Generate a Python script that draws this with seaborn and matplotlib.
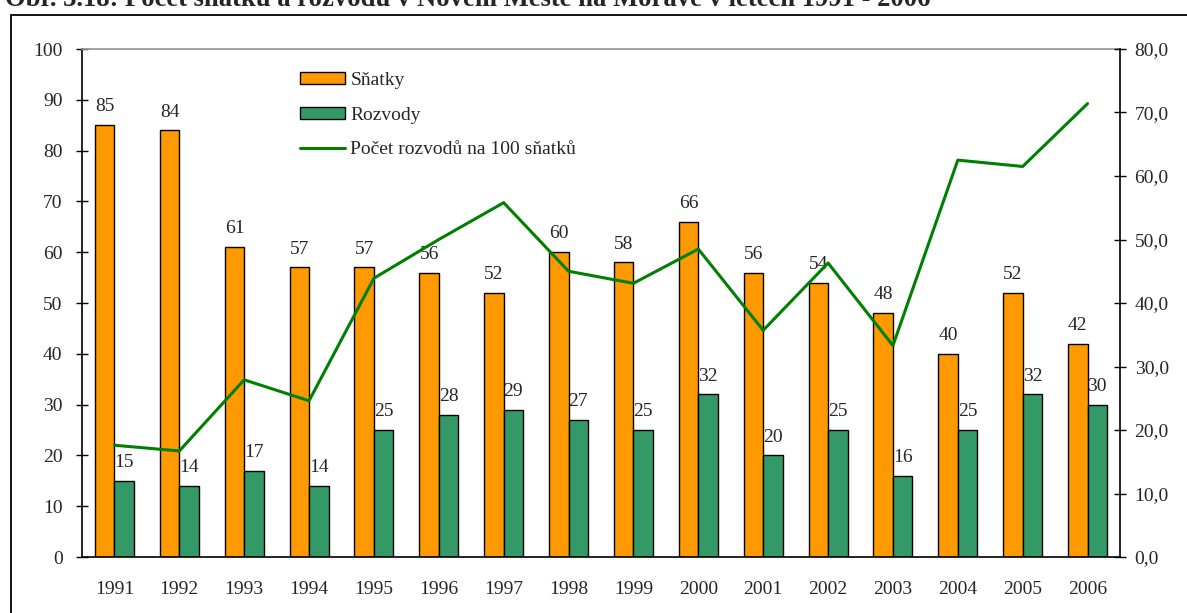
import pandas as pd
import seaborn as sns
import matplotlib.pyplot as plt
import matplotlib.patches as mpatches
from matplotlib.lines import Line2D

years = [str(y) for y in range(1991, 2007)]
snatky = [85, 84, 61, 57, 57, 56, 52, 60, 58, 66, 56, 54, 48, 40, 52, 42]
rozvody = [15, 14, 17, 14, 25, 28, 29, 27, 25, 32, 20, 25, 16, 25, 32, 30]
na_100 = [17.6, 16.7, 27.9, 24.6, 43.9, 50.0, 55.8, 45.0, 43.1, 48.5, 35.7, 46.3, 33.3, 62.5, 61.5, 71.4]

ORANGE = '#FF9900'
GREEN = '#339966'
LINE = '#008000'

sns.set_theme(style="white")
plt.rcParams['font.family'] = ['Liberation Serif', 'DejaVu Serif']
FS = 14

df = pd.DataFrame({'rok': years * 2,
                   'pocet': snatky + rozvody,
                   'typ': ['Sňatky'] * len(years) + ['Rozvody'] * len(years)})

fig = plt.figure(figsize=(11.87, 6.13), dpi=100)
ax = fig.add_axes([82 / 1187, 1 - 557 / 613, (1120 - 82) / 1187, (557 - 49) / 613])

# outer frame of the figure (cut by the image edge)
fig.patches.append(mpatches.Rectangle((10.5 / 1187, -0.1), 1.2, 1 - 15.5 / 613 + 0.1,
                                      transform=fig.transFigure, fill=False,
                                      edgecolor='black', linewidth=1.3))
fig.text(5 / 1187, 1 - 5.5 / 613, 'Obr. 3.18: Počet sňatků a rozvodů v Novém Městě na Moravě v letech 1991 - 2006',
         fontsize=19.2, fontweight='bold', va='baseline', ha='left')

sns.barplot(data=df, x='rok', y='pocet', hue='typ', palette=[ORANGE, GREEN], saturation=1,
            width=0.6, edgecolor='black', linewidth=1.0, legend=False, ax=ax)

for cont in ax.containers:
    ax.bar_label(cont, fontsize=FS, padding=7)

ax.set_ylim(0, 100)
ax.set_xlim(-0.5, len(years) - 0.5)
ax.set_yticks(range(0, 101, 10))
ax.set_xlabel('')
ax.set_ylabel('')
ax.set_xticks(range(len(years)))
ax.set_xticklabels(years)
ax.set_xticks([i - 0.5 for i in range(len(years) + 1)], minor=True)
ax.tick_params(axis='x', which='major', length=0, pad=17, labelsize=FS)
ax.tick_params(axis='x', which='minor', length=8, direction='inout', width=1, color='black')
ax.tick_params(axis='y', length=9, direction='inout', width=1, color='black', labelsize=FS, pad=9.5, left=True)
for s in ['left', 'bottom']:
    ax.spines[s].set_color('black')
    ax.spines[s].set_linewidth(1.2)
ax.spines['right'].set_visible(False)
ax.spines['top'].set_color('#999999')

ax2 = ax.twinx()
sns.lineplot(x=list(range(len(years))), y=na_100, color=LINE, linewidth=2.2, ax=ax2)
ax2.set_ylim(0, 80)
ax2.set_yticks(range(0, 81, 10))
ax2.set_yticklabels(['{:.1f}'.format(v).replace('.', ',') for v in range(0, 81, 10)])
ax2.tick_params(axis='y', length=9, direction='inout', width=1, color='black', labelsize=FS, pad=6, right=True)
for s in ['left', 'top', 'bottom']:
    ax2.spines[s].set_visible(False)
ax2.spines['right'].set_color('black')
ax2.spines['right'].set_linewidth(1.2)

handles = [mpatches.Patch(facecolor=ORANGE, edgecolor='black', label='Sňatky'),
           mpatches.Patch(facecolor=GREEN, edgecolor='black', label='Rozvody'),
           Line2D([0], [0], color=LINE, linewidth=2.2, label='Počet rozvodů na 100 sňatků')]
ax2.legend(handles=handles, loc='upper left', bbox_to_anchor=(0.193, 0.989), frameon=False,
           fontsize=FS, handlelength=2.3, handleheight=0.55, handletextpad=0.3, labelspacing=0.9)

fig.savefig('out.png', dpi=100)
